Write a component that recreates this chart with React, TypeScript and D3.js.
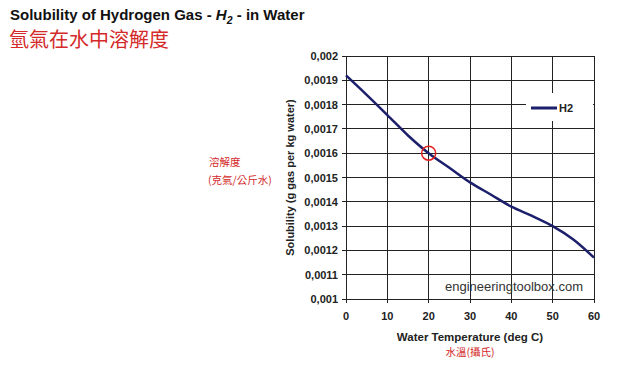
import React, { useEffect, useRef } from 'react';
import * as d3 from 'd3';

const temps = [0, 5, 10, 15, 20, 25, 30, 35, 40, 45, 50, 55, 60];
const solubility = [0.00192, 0.00184, 0.001757, 0.001673, 0.0016, 0.00154, 0.00148, 0.00143, 0.00138, 0.001342, 0.0013, 0.001245, 0.00117];
const xTicks = [0, 10, 20, 30, 40, 50, 60];
const yTicks = [0.001, 0.0011, 0.0012, 0.0013, 0.0014, 0.0015, 0.0016, 0.0017, 0.0018, 0.0019, 0.002];
const markedPoint = { t: 20, s: 0.0016 };

const App: React.FC = () => {
  const svgRef = useRef<SVGSVGElement>(null);

  useEffect(() => {
    if (!svgRef.current) return;
    const svg = d3.select(svgRef.current);
    svg.selectAll('*').remove();

    const font = 'Liberation Sans, Arial, sans-serif';
    const left = 346, right = 594, top = 56, bottom = 299;

    const x = d3.scaleLinear().domain([0, 60]).range([left, right]);
    const y = d3.scaleLinear().domain([0.001, 0.002]).range([bottom, top]);

    svg.append('rect').attr('width', 640).attr('height', 372).attr('fill', '#fff');

    // Titles
    const title = svg.append('text')
      .attr('x', 10).attr('y', 20)
      .style('font-family', font).style('font-size', '15px').style('font-weight', 'bold')
      .attr('fill', '#111');
    title.append('tspan').text('Solubility of Hydrogen Gas - ');
    title.append('tspan').style('font-style', 'italic').text('H');
    title.append('tspan').style('font-style', 'italic').style('font-size', '10.5px').attr('dy', 4).text('2');
    title.append('tspan').attr('dy', -4).text(' - in Water');

    svg.append('text')
      .attr('x', 9).attr('y', 47)
      .style('font-family', 'Noto Sans CJK TC, sans-serif').style('font-size', '20px')
      .attr('fill', '#d42a2a')
      .text('氫氣在水中溶解度');

    // Grid
    const g = svg.append('g');
    g.selectAll('line.h').data(yTicks).join('line')
      .attr('x1', left).attr('x2', right)
      .attr('y1', d => y(d)).attr('y2', d => y(d))
      .attr('stroke', '#222').attr('stroke-width', 1).attr('shape-rendering', 'crispEdges');
    g.selectAll('line.v').data(xTicks).join('line')
      .attr('y1', top).attr('y2', bottom)
      .attr('x1', d => x(d)).attr('x2', d => x(d))
      .attr('stroke', '#222').attr('stroke-width', 1).attr('shape-rendering', 'crispEdges');

    // tick marks
    g.selectAll('line.yt').data(yTicks).join('line')
      .attr('x1', left - 4).attr('x2', left)
      .attr('y1', d => y(d)).attr('y2', d => y(d))
      .attr('stroke', '#222').attr('shape-rendering', 'crispEdges');
    g.selectAll('line.xt').data(xTicks).join('line')
      .attr('y1', bottom).attr('y2', bottom + 4)
      .attr('x1', d => x(d)).attr('x2', d => x(d))
      .attr('stroke', '#222').attr('shape-rendering', 'crispEdges');

    // Tick labels
    const fmt = (d: number) => (d === 0.001 || d === 0.002 ? d.toFixed(3) : d.toFixed(4)).replace('.', ',');
    svg.selectAll('text.yl').data(yTicks).join('text')
      .attr('x', left - 8).attr('y', d => y(d) + 4)
      .attr('text-anchor', 'end')
      .style('font-family', font).style('font-size', '11px').style('font-weight', 'bold')
      .attr('fill', '#222')
      .text(d => fmt(d));
    svg.selectAll('text.xl').data(xTicks).join('text')
      .attr('x', d => x(d)).attr('y', bottom + 21)
      .attr('text-anchor', 'middle')
      .style('font-family', font).style('font-size', '11px').style('font-weight', 'bold')
      .attr('fill', '#222')
      .text(d => String(d));

    // Axis labels
    svg.append('text')
      .attr('transform', `translate(294,${(top + bottom) / 2}) rotate(-90)`)
      .attr('text-anchor', 'middle')
      .style('font-family', font).style('font-size', '11px').style('font-weight', 'bold')
      .attr('fill', '#222')
      .text('Solubility (g gas per kg water)');
    svg.append('text')
      .attr('x', (left + right) / 2).attr('y', 341)
      .attr('text-anchor', 'middle')
      .style('font-family', font).style('font-size', '11.5px').style('font-weight', 'bold')
      .attr('fill', '#222')
      .text('Water Temperature (deg C)');
    svg.append('text')
      .attr('x', (left + right) / 2).attr('y', 356)
      .attr('text-anchor', 'middle')
      .style('font-family', 'Noto Sans CJK TC, sans-serif').style('font-size', '10.5px')
      .attr('fill', '#d42a2a')
      .text('水溫(攝氏)');
    svg.append('text')
      .attr('x', 209).attr('y', 166)
      .style('font-family', 'Noto Sans CJK TC, sans-serif').style('font-size', '10.5px')
      .attr('fill', '#d42a2a')
      .text('溶解度');
    svg.append('text')
      .attr('x', 208).attr('y', 184)
      .style('font-family', 'Noto Sans CJK TC, sans-serif').style('font-size', '10.5px')
      .attr('fill', '#d42a2a')
      .text('(克氣/公斤水)');

    // Legend
    svg.append('rect')
      .attr('x', 526).attr('y', 93).attr('width', 67).attr('height', 28)
      .attr('fill', '#fff');
    svg.append('line')
      .attr('x1', 531).attr('x2', 557).attr('y1', 108).attr('y2', 108)
      .attr('stroke', '#1c1f6b').attr('stroke-width', 3);
    svg.append('text')
      .attr('x', 559).attr('y', 112)
      .style('font-family', font).style('font-size', '11px').style('font-weight', 'bold')
      .attr('fill', '#222')
      .text('H2');

    // Watermark
    svg.append('text')
      .attr('x', 583).attr('y', 291)
      .attr('text-anchor', 'end')
      .style('font-family', font).style('font-size', '13px')
      .attr('fill', '#333')
      .text('engineeringtoolbox.com');

    // Curve
    const line = d3.line<number>()
      .x((_, i) => x(temps[i]))
      .y(d => y(d))
      .curve(d3.curveCatmullRom.alpha(0.5));
    svg.append('path')
      .datum(solubility)
      .attr('fill', 'none')
      .attr('stroke', '#1c1f6b')
      .attr('stroke-width', 2.5)
      .attr('d', line);

    // Marker circle
    svg.append('circle')
      .attr('cx', x(markedPoint.t)).attr('cy', y(markedPoint.s)).attr('r', 7)
      .attr('fill', 'none').attr('stroke', '#e0201c').attr('stroke-width', 1.5);
  }, []);

  return (
    <div style={{ position: 'absolute', left: 0, top: 0 }}>
      <svg ref={svgRef} width={640} height={372} style={{ display: 'block' }} />
    </div>
  );
};

export default App;
